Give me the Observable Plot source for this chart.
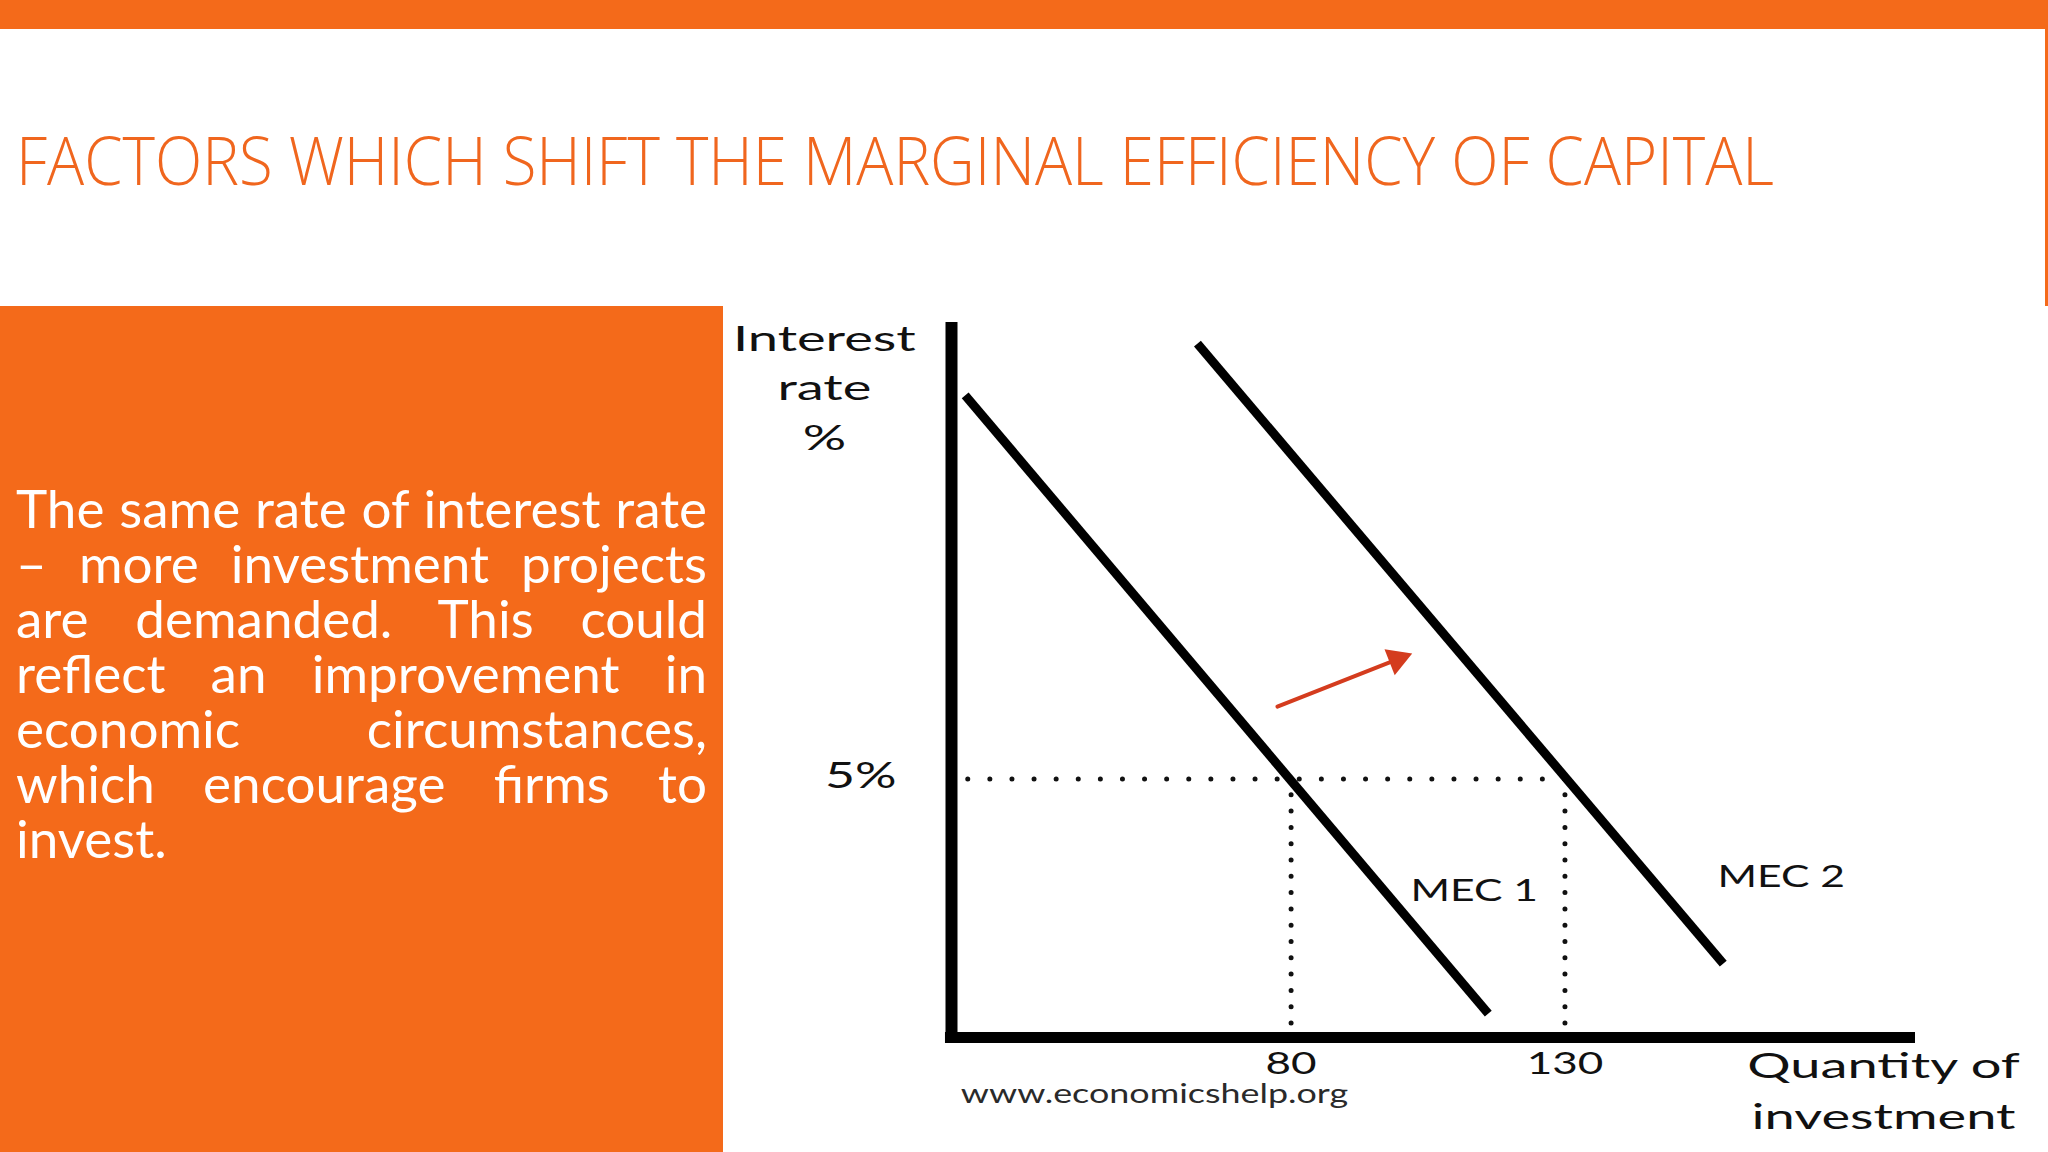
<!DOCTYPE html>
<html><head><meta charset="utf-8">
<script src="https://cdn.jsdelivr.net/npm/d3@7"></script>
<script src="https://cdn.jsdelivr.net/npm/@observablehq/plot@0.6"></script>
<style>
html,body{margin:0;padding:0;width:2048px;height:1152px;overflow:hidden;background:#fff;}
#topbar{position:absolute;left:0;top:0;width:2048px;height:29px;background:#F46A1A;}
#rightline{position:absolute;left:2045px;top:29px;width:3px;height:277px;background:#F46A1A;}
#title{position:absolute;left:16px;top:126px;font-family:"Open Sans",Lato,sans-serif;font-weight:300;font-size:66px;line-height:66px;color:#F0661E;white-space:nowrap;transform-origin:0 0;}
#panel{position:absolute;left:0;top:306px;width:723px;height:846px;background:#F46A1A;}
#body{position:absolute;left:16px;top:480px;width:691px;font-family:Lato,"Open Sans",sans-serif;font-size:53px;line-height:55px;color:#fff;}
#body .ln{text-align:justify;text-align-last:justify;}
#body .ln.last{text-align:left;text-align-last:left;}
#chart{position:absolute;left:723px;top:307px;}
</style></head>
<body>
<div id="topbar"></div>
<div id="rightline"></div>
<div id="title"></div>
<div id="panel"></div>
<div id="body"></div>
<div id="chart"></div>
<script>
// ---- Text content ----
const titleText = "FACTORS WHICH SHIFT THE MARGINAL EFFICIENCY OF CAPITAL";
const bodyLines = [
  "The same rate of interest rate",
  "– more investment projects",
  "are demanded. This could",
  "reflect an improvement in",
  "economic circumstances,",
  "which encourage firms to",
  "invest."
];

// ---- Chart data ----
const xDomain = [18, 194];        // quantity of investment (schematic)
const yDomain = [0, 13.83];       // interest rate %
const curveNames = ["MEC 1", "MEC 2"];
const mec1Q = [20.5, 116.0];
const mec1R = [12.42, 0.46];
const mec2Q = [62.9, 158.9];
const mec2R = [13.42, 1.43];
const rateLevel = 5;
const rateLabel = "5%";
const xTicks = [80, 130];
const arrowQ = [77.5, 102.1];
const arrowR = [6.40, 7.43];
const yAxisTitle = "Interest\nrate\n%";
const xAxisTitle = "Quantity of\ninvestment";
const sourceText = "www.economicshelp.org";

// ---- HTML text ----
const title = document.getElementById("title");
title.textContent = titleText;
const body = document.getElementById("body");
bodyLines.forEach((l, i) => {
  const d = document.createElement("div");
  d.className = "ln" + (i === bodyLines.length - 1 ? " last" : "");
  d.textContent = l;
  body.appendChild(d);
});
{
  const w = title.getBoundingClientRect().width;
  title.style.transform = `scaleX(${1758 / w})`;
}

// ---- Build series table ----
const curves = [
  ...mec1Q.map((q, i) => ({curve: curveNames[0], q, r: mec1R[i]})),
  ...mec2Q.map((q, i) => ({curve: curveNames[1], q, r: mec2R[i]}))
];
const curveEnds = [
  {curve: curveNames[0], q: mec1Q[1], r: mec1R[1]},
  {curve: curveNames[1], q: mec2Q[1], r: mec2R[1]}
];
const arrowRow = [{q1: arrowQ[0], r1: arrowR[0], q2: arrowQ[1], r2: arrowR[1]}];

const font = "Lato, 'Open Sans', sans-serif";
const ink = "#111";

const plot = Plot.plot({
  width: 1325,
  height: 845,
  marginLeft: 228,
  marginRight: 133,
  marginTop: 15,
  marginBottom: 115,
  x: {domain: xDomain, axis: null},
  y: {domain: yDomain, axis: null},
  style: {background: "#fff", fontFamily: font, color: ink, overflow: "visible"},
  marks: [
    // dotted guide lines
    Plot.ruleY([rateLevel], {x1: xTicks[1], x2: xDomain[0], stroke: "#111", strokeWidth: 5, strokeLinecap: "round", strokeDasharray: "0 22.1"}),
    Plot.ruleX(xTicks, {y1: rateLevel, y2: yDomain[0], stroke: "#111", strokeWidth: 5, strokeLinecap: "round", strokeDasharray: "0 16.3"}),
    // MEC curves
    Plot.line(curves, {x: "q", y: "r", z: "curve", stroke: "#000", strokeWidth: 9, strokeLinecap: "butt"}),
    // axes
    Plot.ruleX([xDomain[0]], {y1: -0.1, y2: yDomain[1], stroke: "#000", strokeWidth: 12}),
    Plot.ruleY([yDomain[0]], {x1: xDomain[0] - 1.1, x2: xDomain[1], stroke: "#000", strokeWidth: 11}),
    // shift arrow
    Plot.arrow(arrowRow, {x1: "q1", y1: "r1", x2: "q2", y2: "r2", stroke: "#D43C1E", strokeWidth: 4, headLength: 0, insetEnd: 14}),
    Plot.dot(arrowRow, {x: "q2", y: "r2", symbol: "triangle", r: 10.4, fill: "#D43C1E", stroke: "none", rotate: 68.6, dx: -15, dy: 6}),
    // tick labels
    Plot.text(xTicks, {x: d => d, y: yDomain[0], text: d => String(d), fontSize: 31, dy: 27, fill: ink}),
    Plot.text([rateLevel], {x: xDomain[0], y: d => d, text: () => rateLabel, fontSize: 36, textAnchor: "end", dx: -55, dy: -3, fill: ink}),
    // curve labels
    Plot.text([curveEnds[0]], {x: "q", y: "r", text: "curve", fontSize: 30, dx: -14, dy: -122, fill: ink}),
    Plot.text([curveEnds[1]], {x: "q", y: "r", text: "curve", fontSize: 30, dx: 58, dy: -86, fill: ink}),
    // axis titles and source
    Plot.text([yAxisTitle], {frameAnchor: "top-left", text: d => d, fontSize: 35, lineHeight: 1.42, lineAnchor: "middle", textAnchor: "middle", dx: -127, dy: 62, fill: ink}),
    Plot.text([xAxisTitle], {frameAnchor: "bottom-right", text: d => d, fontSize: 35, lineHeight: 1.45, lineAnchor: "middle", textAnchor: "middle", dx: -32, dy: 50, fill: ink}),
    Plot.text([sourceText], {frameAnchor: "bottom-left", text: d => d, fontSize: 27, textAnchor: "middle", dx: 203, dy: 65, fill: "#2a2a2a"})
  ]
});
document.getElementById("chart").appendChild(plot);

// The source diagram is stretched horizontally; mimic by widening chart text around its anchor.
const stretchBySize = {35: 1.55, 36: 1.44, 31: 1.42, 30: 1.42, 27: 1.33};
plot.querySelectorAll("text").forEach(t => {
  const size = Math.round(parseFloat(getComputedStyle(t).fontSize));
  const S = stretchBySize[size] || 1.3;
  const b = t.getBBox();
  const anchor = getComputedStyle(t).textAnchor;
  const ax = anchor === "end" ? b.x + b.width : anchor === "middle" ? b.x + b.width / 2 : b.x;
  const tr = t.getAttribute("transform") || "";
  t.setAttribute("transform", `${tr} translate(${ax},0) scale(${S},1) translate(${-ax},0)`);
});
</script>
</body></html>
